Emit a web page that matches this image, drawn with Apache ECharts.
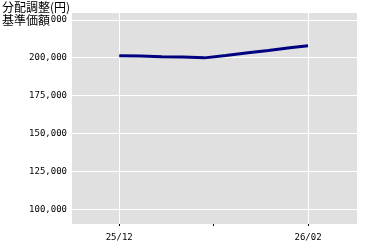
<!DOCTYPE html>
<html><head><meta charset="utf-8">
<script src="https://cdn.jsdelivr.net/npm/echarts@6/dist/echarts.min.js"></script>
<style>html,body{margin:0;padding:0;background:#fff}#c{width:380px;height:250px}</style>
</head><body><div id="c"></div>
<script>
const titleLines = ['分配調整(円)', '基準価額'];
const dates = ['2025-12-01','2025-12-08','2025-12-15','2025-12-22','2025-12-29','2026-01-05','2026-01-13','2026-01-19','2026-01-26','2026-02-01'];
const navValues = [201300, 201100, 200700, 200400, 199900, 201500, 203400, 204800, 206500, 207900];
const yTicks = [100000, 125000, 150000, 175000, 200000, 225000];
const xLabelDates = ['2025-12-01', '2026-02-01'];
const xTickDates = ['2025-12-01', '2026-01-01', '2026-02-01'];
const yMin = 90300, yMax = 229500;
const xMinDate = '2025-11-15T12:00:00', xMaxDate = '2026-02-17T02:00:00';

function ts(s){ const p = s.split(/[-T:]/).map(Number); return new Date(p[0], p[1]-1, p[2], p[3]||0, p[4]||0).getTime(); }
function fmtYM(v){ const d = new Date(v); return String(d.getFullYear()).slice(2) + '/' + String(d.getMonth()+1).padStart(2,'0'); }
function fmtNum(v){ return String(v).replace(/\B(?=(\d{3})+(?!\d))/g, ','); }

const font = 'DejaVu Sans Mono';
const chart = echarts.init(document.getElementById('c'), null, {renderer:'canvas'});
chart.setOption({
  animation: false,
  backgroundColor: '#fff',
  title: titleLines.map((t, i) => ({
    text: t, left: 2, top: 1 + i * 13, padding: 0, backgroundColor: '#fff', z: 10,
    textStyle: {fontFamily: 'Noto Sans CJK JP', fontSize: 12, fontWeight: 'normal', color: '#000', lineHeight: 13}
  })),
  grid: {left: 72, right: 23, top: 13, bottom: 26, show: true, backgroundColor: '#e0e0e0', borderWidth: 0},
  xAxis: [{
    type: 'value', min: ts(xMinDate), max: ts(xMaxDate),
    axisLine: {show: false},
    axisTick: {show: false, customValues: xLabelDates.map(ts)},
    axisLabel: {customValues: xLabelDates.map(ts), formatter: fmtYM, color: '#000', fontFamily: font, fontSize: 9, margin: 9, hideOverlap: false},
    splitLine: {show: true, lineStyle: {color: '#fff', width: 1}}
  }, {
    type: 'value', min: ts(xMinDate), max: ts(xMaxDate), position: 'bottom',
    axisLine: {show: false},
    axisTick: {show: true, customValues: xTickDates.map(ts), length: 2, lineStyle: {color: '#000', width: 1}},
    axisLabel: {show: false},
    splitLine: {show: false}
  }],
  yAxis: {
    type: 'value', min: yMin, max: yMax,
    axisLine: {show: false},
    axisTick: {show: true, customValues: yTicks, length: 3, lineStyle: {color: '#fff'}},
    axisLabel: {customValues: yTicks, formatter: fmtNum, color: '#000', fontFamily: font, fontSize: 9, margin: 5},
    splitLine: {show: true, lineStyle: {color: '#fff', width: 1}}
  },
  series: [{
    type: 'line', xAxisIndex: 0,
    data: dates.map((d, i) => [ts(d), navValues[i]]),
    showSymbol: false, symbol: 'none',
    lineStyle: {color: '#000080', width: 3},
    z: 5
  }]
});
</script></body></html>
